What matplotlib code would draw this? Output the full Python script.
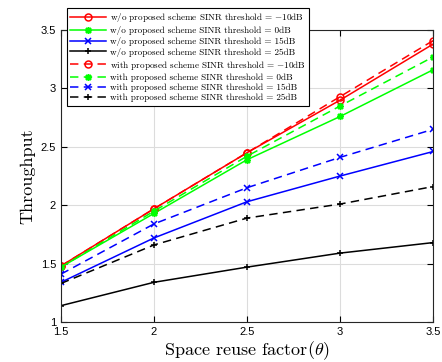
import matplotlib
matplotlib.use("Agg")
import matplotlib.pyplot as plt

plt.rcParams['mathtext.fontset'] = 'cm'

theta = [1.5, 2.0, 2.5, 3.0, 3.5]

# w/o proposed scheme
wo_m10 = [1.48, 1.97, 2.45, 2.90, 3.38]
wo_0 = [1.47, 1.93, 2.39, 2.76, 3.16]
wo_15 = [1.34, 1.72, 2.03, 2.25, 2.46]
wo_25 = [1.14, 1.34, 1.47, 1.59, 1.68]

# with proposed scheme
w_m10 = [1.48, 1.97, 2.45, 2.93, 3.41]
w_0 = [1.47, 1.95, 2.42, 2.85, 3.27]
w_15 = [1.41, 1.84, 2.15, 2.41, 2.65]
w_25 = [1.33, 1.66, 1.89, 2.01, 2.16]

thresholds = [r"$-$10dB", "0dB", "15dB", "25dB"]
colors = ["#ff0000", "#00ff00", "#0000ff", "#000000"]
markers = ["o", (8, 2, 0), "x", "+"]

fig = plt.figure(figsize=(4.42, 3.62), dpi=100)
ax = fig.add_axes([0.138, 0.1105, 0.842, 0.8065])

for ys, th, c, m in zip((wo_m10, wo_0, wo_15, wo_25), thresholds, colors, markers):
    ax.plot(theta, ys, "-", color=c, marker=m, ms=5, mfc="none", lw=1.1, mew=1.1,
            label="w/o proposed scheme SINR threshold = " + th)
for ys, th, c, m in zip((w_m10, w_0, w_15, w_25), thresholds, colors, markers):
    ax.plot(theta, ys, color=c, marker=m, ms=5, mfc="none", lw=1.1, mew=1.1,
            ls=(0, (5.5, 3.5)),
            label="with proposed scheme SINR threshold = " + th)

ax.set_xlim(1.5, 3.5)
ax.set_ylim(1, 3.5)
ax.set_xticks([1.5, 2, 2.5, 3, 3.5])
ax.set_xticklabels(["1.5", "2", "2.5", "3", "3.5"])
ax.set_yticks([1, 1.5, 2, 2.5, 3, 3.5])
ax.set_yticklabels(["1", "1.5", "2", "2.5", "3", "3.5"])
ax.tick_params(direction="in", top=True, right=True, labelsize=8, length=4)
for lab in ax.get_xticklabels() + ax.get_yticklabels():
    lab.set_family("Liberation Sans")
ax.grid(True, color="#dcdcdc", lw=0.8)
for s in ax.spines.values():
    s.set_linewidth(0.8)
    s.set_color("#262626")

ax.set_xlabel(r"Space reuse factor($\theta$)", fontsize=13, family="cmr10", labelpad=2)
ax.set_ylabel("Throughput", fontsize=13, family="cmr10", labelpad=4)

leg = ax.legend(loc="upper left", bbox_to_anchor=(67 / 442, 1 - 8 / 362),
                bbox_transform=fig.transFigure, borderaxespad=0,
                prop={"family": "cmr10", "size": 6.6}, handlelength=3.9,
                labelspacing=0.2, fancybox=False, edgecolor="black", framealpha=1,
                borderpad=0.35, handletextpad=0.4)
leg.get_frame().set_linewidth(0.8)
leg.set_zorder(10)

fig.savefig("out.png", dpi=100)
